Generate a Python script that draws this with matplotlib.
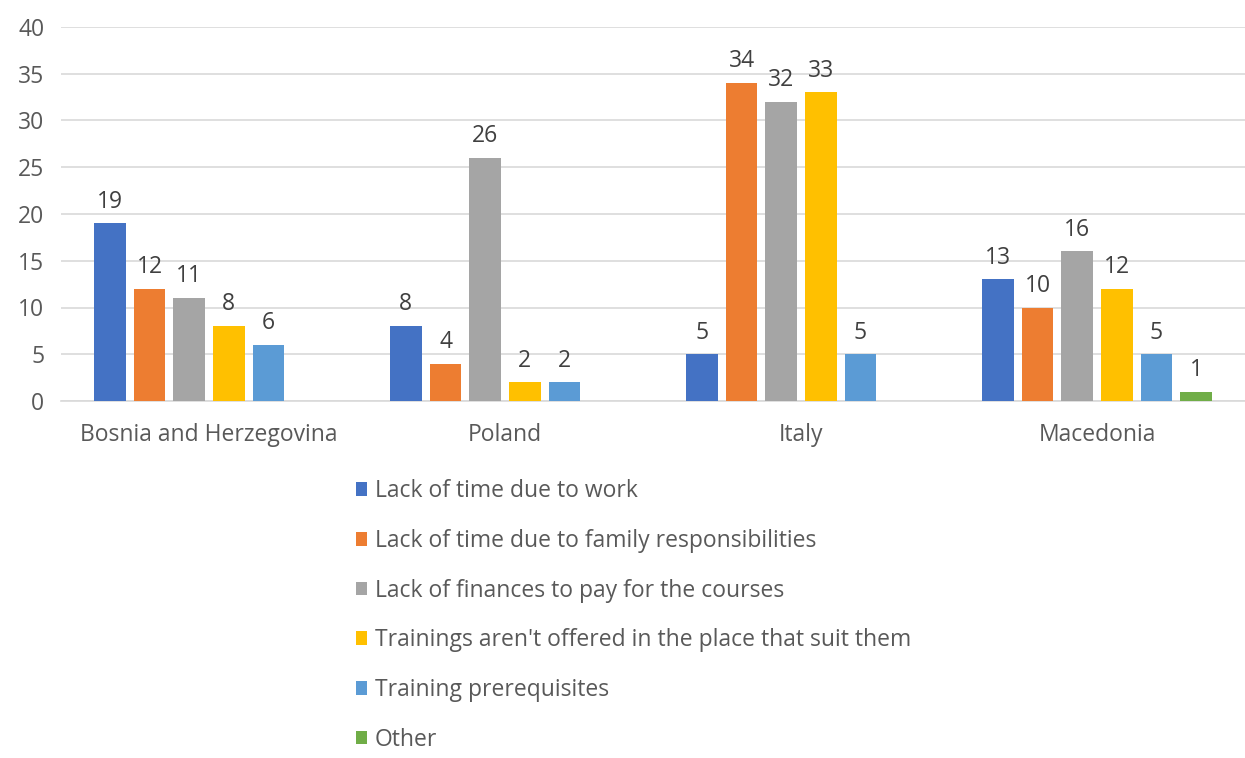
import numpy as np
import matplotlib
matplotlib.use('Agg')
import matplotlib.pyplot as plt

plt.rcParams['font.family'] = ['Open Sans', 'DejaVu Sans']

countries = ['Bosnia and Herzegovina', 'Poland', 'Italy', 'Macedonia']
reasons = ['Lack of time due to work',
           'Lack of time due to family responsibilities',
           'Lack of finances to pay for the courses',
           "Trainings aren't offered in the place that suit them",
           'Training prerequisites',
           'Other']
# values per reason, one entry per country (None = no answer shown)
work = [19, 8, 5, 13]
family = [12, 4, 34, 10]
finances = [11, 26, 32, 16]
place = [8, 2, 33, 12]
prereq = [6, 2, 5, 5]
other = [None, None, None, 1]
series = [work, family, finances, place, prereq, other]
colors = ['#4472C4', '#ED7D31', '#A5A5A5', '#FFC000', '#5B9BD5', '#70AD47']

text_col = '#595959'
fs = 16.5
fig = plt.figure(figsize=(12.45, 7.58), dpi=100)
ax = fig.add_axes([61/1245, 1 - 401/758, 1 - 61/1245, (401 - 27)/758])

x = np.arange(len(countries))
step = 0.134
width = 0.107
for i, (vals, col, lab) in enumerate(zip(series, colors, reasons)):
    pos = x + (i - 2.5) * step
    h = [np.nan if v is None else v for v in vals]
    bars = ax.bar(pos, h, width=width, color=col, label=lab, zorder=3)
    for b, v in zip(bars, vals):
        if v is None:
            continue
        ax.annotate(str(v), (b.get_x() + b.get_width()/2, v), xytext=(0, 7),
                    textcoords='offset points', ha='center', va='bottom',
                    fontsize=fs, color='#404040')

ax.set_xlim(-0.5, 3.5)
ax.set_ylim(0, 40)
ax.set_yticks(range(0, 41, 5))
ax.set_xticks(x)
ax.set_xticklabels(countries)
ax.tick_params(axis='both', length=0, labelsize=fs, colors=text_col)
ax.tick_params(axis='x', pad=16)
ax.tick_params(axis='y', pad=12)
ax.grid(axis='y', color='#d9d9d9', linewidth=1.2, zorder=0)
for s in ['top', 'right', 'left']:
    ax.spines[s].set_visible(False)
ax.spines['bottom'].set_color('#d9d9d9')
ax.spines['bottom'].set_linewidth(1.2)

leg = fig.legend(loc='upper left', bbox_to_anchor=(338/1245, 1 - 461/758),
                 frameon=False, fontsize=fs, handlelength=0.45, handleheight=0.55,
                 handletextpad=0.35, labelspacing=1.12, borderpad=0.3)
for t in leg.get_texts():
    t.set_color(text_col)

fig.savefig('out.png', dpi=100)
